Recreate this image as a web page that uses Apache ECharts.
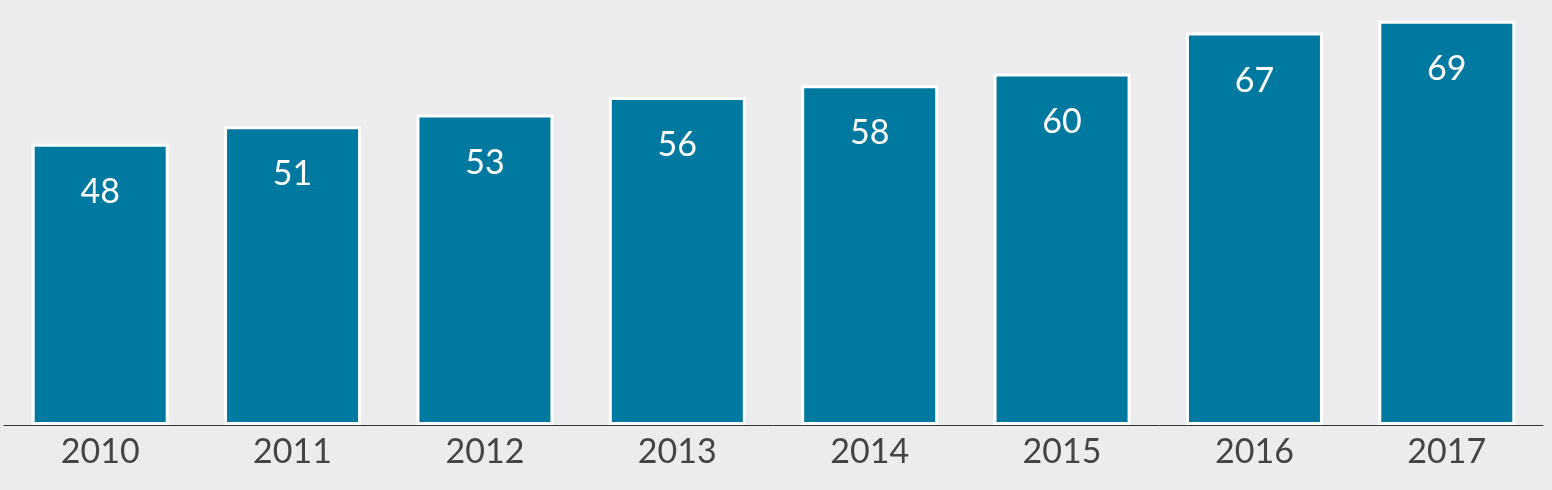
<!DOCTYPE html>
<html>
<head>
<meta charset="utf-8">
<script src="https://cdn.jsdelivr.net/npm/echarts@6/dist/echarts.min.js"></script>
<style>
html,body{margin:0;padding:0;background:#ececee;}
#c{width:1552px;height:490px;}
</style>
</head>
<body>
<div id="c"></div>
<script>
const categories = ['2010','2011','2012','2013','2014','2015','2016','2017'];
const values = [48, 51, 53, 56, 58, 60, 67, 69];

const chart = echarts.init(document.getElementById('c'));
chart.setOption({
  backgroundColor: '#ececee',
  animation: false,
  grid: {left: 4, right: 9, top: 5, bottom: 65, containLabel: false},
  xAxis: {
    type: 'category',
    data: categories,
    axisLine: {show: true, lineStyle: {color: '#333', width: 1}},
    axisTick: {show: false},
    axisLabel: {color: '#444', fontSize: 34, fontFamily: 'Lato', margin: 10}
  },
  yAxis: {
    type: 'value', min: 0, max: 71.7,
    show: false, splitLine: {show: false}
  },
  series: [{
    type: 'bar',
    data: values,
    barWidth: 137,
    itemStyle: {color: '#0079a1', borderColor: '#ffffff', borderWidth: 3},
    label: {
      show: true, position: 'insideTop', distance: 31,
      color: '#ffffff', fontSize: 34, fontFamily: 'Lato'
    }
  }]
});
</script>
</body>
</html>
